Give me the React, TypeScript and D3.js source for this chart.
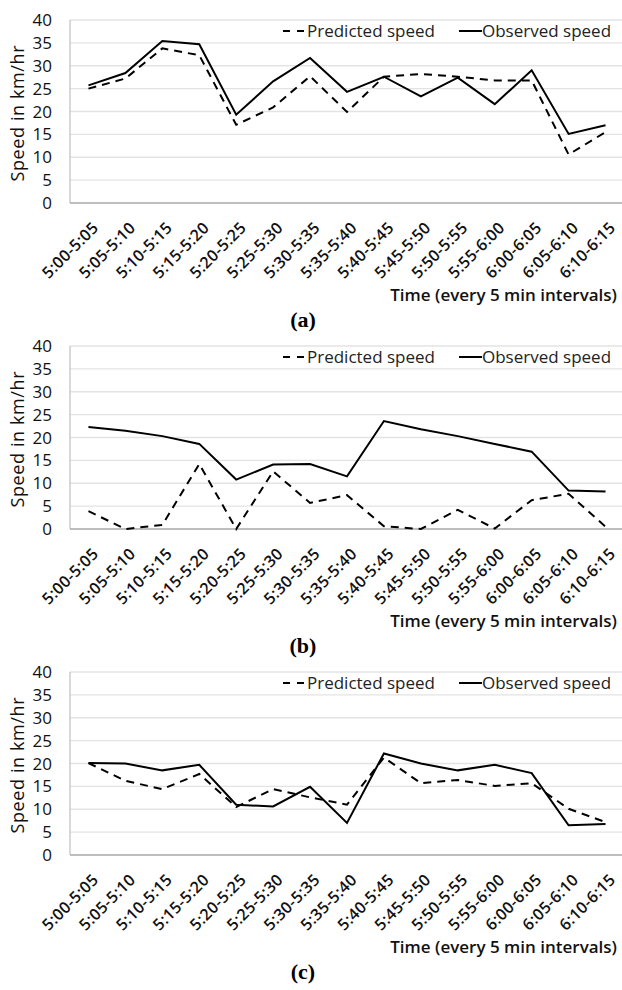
import React from "react";
import * as d3 from "d3";

const categories = [
  "5:00-5:05", "5:05-5:10", "5:10-5:15", "5:15-5:20", "5:20-5:25",
  "5:25-5:30", "5:30-5:35", "5:35-5:40", "5:40-5:45", "5:45-5:50",
  "5:50-5:55", "5:55-6:00", "6:00-6:05", "6:05-6:10", "6:10-6:15",
];
const yTicks = [0, 5, 10, 15, 20, 25, 30, 35, 40];

const predictedA = [25.0, 27.2, 33.8, 32.3, 17.1, 20.9, 27.7, 19.9, 27.6, 28.2, 27.6, 26.8, 26.8, 10.6, 15.5];
const observedA = [25.7, 28.4, 35.4, 34.7, 19.3, 26.6, 31.7, 24.3, 27.6, 23.3, 27.4, 21.6, 29.0, 15.1, 17.0];

const predictedB = [3.9, 0.0, 0.9, 14.2, 0.0, 12.6, 5.7, 7.4, 0.6, 0.0, 4.2, 0.1, 6.3, 7.7, 0.5];
const observedB = [22.3, 21.5, 20.3, 18.6, 10.8, 14.1, 14.2, 11.5, 23.6, 21.8, 20.3, 18.6, 16.9, 8.4, 8.2];

const predictedC = [20.1, 16.2, 14.4, 17.7, 10.5, 14.4, 12.6, 11.0, 21.3, 15.7, 16.4, 15.1, 15.7, 10.1, 7.2];
const observedC = [20.1, 20.0, 18.5, 19.7, 11.0, 10.6, 14.9, 7.0, 22.2, 20.0, 18.5, 19.7, 17.9, 6.5, 6.8];

const panelLabels = ["(a)", "(b)", "(c)"];
const legendLabels = ["Predicted speed", "Observed speed"];
const yTitle = "Speed in km/hr";
const xTitle = "Time (every 5 min intervals)";

const FONT = "'Open Sans', 'Noto Sans', sans-serif";

type PanelProps = {
  top: number;
  predicted: number[];
  observed: number[];
  label: string;
};

function Panel({ top, predicted, observed, label }: PanelProps) {
  const x = d3.scaleBand<string>().domain(categories).range([70, 624]);
  const y = d3.scaleLinear().domain([0, 40]).range([203, 20]);
  const cx = (i: number) => (x(categories[i]) as number) + x.bandwidth() / 2;
  const line = d3
    .line<number>()
    .x((_, i) => cx(i))
    .y((d) => y(d));

  return (
    <g transform={`translate(0,${top})`}>
      {yTicks.map((t) =>
        t === 0 ? null : (
          <line key={"g" + t} x1={70} x2={624} y1={y(t)} y2={y(t)} stroke="#e3e3e3" strokeWidth={1.3} />
        )
      )}
      <line x1={70} x2={70} y1={y(40)} y2={y(0)} stroke="#c4c4c4" strokeWidth={1.3} />
      <line x1={70} x2={624} y1={y(0)} y2={y(0)} stroke="#a8a8a8" strokeWidth={1.6} />
      {yTicks.map((t) => (
        <text
          key={"t" + t}
          x={52}
          y={y(t)}
          dy="0.36em"
          textAnchor="end"
          fontFamily={FONT}
          fontSize={17}
          fill="#111"
        >
          {t}
        </text>
      ))}
      <text
        transform={`translate(24,${(y(0) + y(40)) / 2 + 2}) rotate(-90)`}
        textAnchor="middle"
        fontFamily={FONT}
        fontSize={18}
        textLength={136}
        lengthAdjust="spacing"
        fill="#111"
      >
        {yTitle}
      </text>
      {categories.map((c, i) => (
        <text
          key={c}
          transform={`translate(${cx(i) + 3},${y(0) + 18}) rotate(-45)`}
          dy="0.7em"
          textAnchor="end"
          fontFamily={FONT}
          fontSize={16}
          fontWeight={600}
          letterSpacing={0.3}
          fill="#111"
        >
          {c}
        </text>
      ))}
      <path d={line(predicted) || ""} fill="none" stroke="#000" strokeWidth={2} strokeDasharray="8,6" />
      <path d={line(observed) || ""} fill="none" stroke="#000" strokeWidth={2} />
      {/* legend */}
      <line x1={283} x2={306} y1={31} y2={31} stroke="#000" strokeWidth={2} strokeDasharray="7,7" />
      <text x={307} y={37} fontFamily={FONT} fontSize={17} fill="#222">
        {legendLabels[0]}
      </text>
      <line x1={459} x2={482} y1={31} y2={31} stroke="#000" strokeWidth={2} />
      <text x={482} y={37} fontFamily={FONT} fontSize={17} fill="#222">
        {legendLabels[1]}
      </text>
      <text x={617} y={301} textAnchor="end" fontFamily={FONT} fontSize={17} fontWeight={600} fill="#111">
        {xTitle}
      </text>
      <text
        x={303}
        y={327}
        textAnchor="middle"
        fontFamily="'Liberation Serif', 'Times New Roman', serif"
        fontSize={22}
        fontWeight="bold"
        fill="#000"
      >
        {label}
      </text>
    </g>
  );
}

export default function App() {
  const panels = [
    { predicted: predictedA, observed: observedA },
    { predicted: predictedB, observed: observedB },
    { predicted: predictedC, observed: observedC },
  ];
  return (
    <svg
      width={622}
      height={990}
      style={{ position: "absolute", left: 0, top: 0, background: "#fff" }}
    >
      <rect width={622} height={990} fill="#fff" />
      {panels.map((p, i) => (
        <Panel key={i} top={i * 326} predicted={p.predicted} observed={p.observed} label={panelLabels[i]} />
      ))}
    </svg>
  );
}
